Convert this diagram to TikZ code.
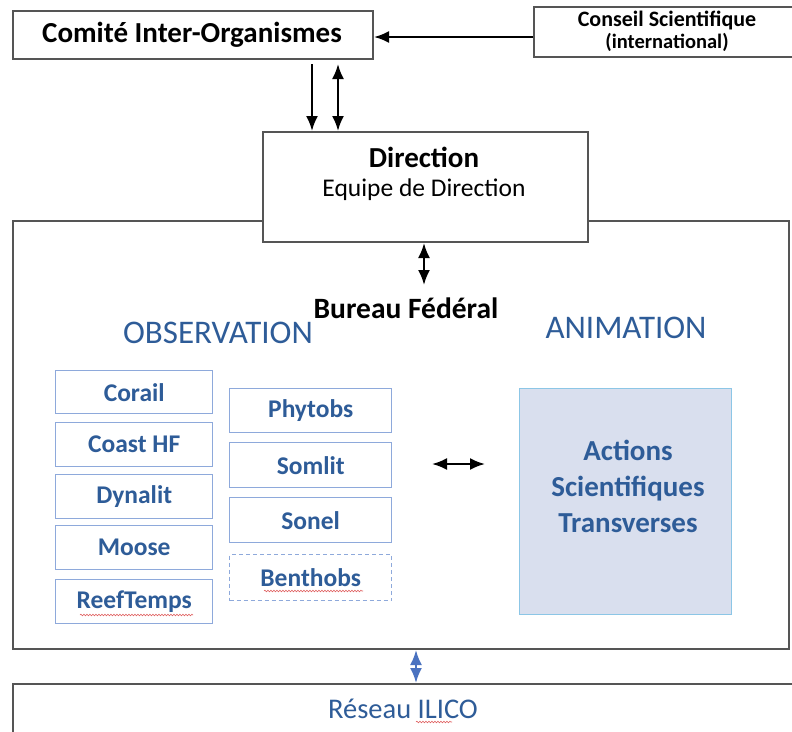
\documentclass[tikz,border=0pt]{standalone}
\usepackage{fontspec}
\setmainfont{Carlito}
\usetikzlibrary{arrows.meta,decorations.pathmorphing}
\definecolor{frame}{HTML}{555555}
\definecolor{txtblue}{HTML}{2E5C98}
\definecolor{boxblue}{HTML}{8EA9DB}
\definecolor{actfill}{HTML}{D9DFEE}
\definecolor{actline}{HTML}{8CC6E6}
\definecolor{arrblue}{HTML}{4A72C0}
\definecolor{squig}{HTML}{E06060}
\tikzset{
  graybox/.style={draw=frame, line width=2pt, fill=white, inner sep=0pt, anchor=north west, align=center},
  obsbox/.style={draw=boxblue, line width=1.4pt, fill=white, inner sep=0pt, anchor=north west,
     font=\fontsize{25.5}{29}\selectfont\bfseries, text=txtblue},
  arr/.style={line width=2.2pt, -{Latex[length=15pt,width=12pt]}},
  darr/.style={line width=2.2pt, {Latex[length=15pt,width=12pt]}-{Latex[length=15pt,width=12pt]}},
  wavy/.style={draw=squig, line width=0.6pt, decorate, decoration={snake, amplitude=0.8pt, segment length=3pt}}
}
\begin{document}
\begin{tikzpicture}[x=1pt,y=-1pt]
\useasboundingbox (0,0) rectangle (792,731);
\fill[white] (0,0) rectangle (792,731);

% big frame
\node[graybox, minimum width=776pt, minimum height=428pt] (frame) at (12,220) {};
% direction box
\node[graybox, minimum width=325pt, minimum height=110pt] (dirbox) at (262,131) {};
\node[font=\fontsize{29}{32}\selectfont\bfseries] (dirt) at (424,157) {Direction};
\node[font=\fontsize{25.5}{29}\selectfont] (dirs) at (424,190) {Equipe de Direction};

% comite
\node[graybox, minimum width=360pt, minimum height=48pt] (comite) at (12,10) {};
\node[font=\fontsize{29}{32}\selectfont\bfseries] (comt) at (192,35) {Comité Inter-Organismes};

% conseil
\node[graybox, minimum width=268pt, minimum height=50pt] (conseil) at (533,6) {};
\node[font=\fontsize{22}{24}\selectfont\bfseries, align=center] (cont) at (667,31) {Conseil Scientifique\\[-2pt]{\fontsize{20.5}{22}\selectfont(international)}};

% reseau
\node[graybox, minimum width=784pt, minimum height=70pt] (reseau) at (12,683) {};
\node[font=\fontsize{28.5}{32}\selectfont, text=txtblue] (rest) at (403,709) {Réseau ILICO};
\draw[wavy] (416,722) -- (452,722);

% labels
\node[font=\fontsize{29.5}{32}\selectfont\bfseries] (bureau) at (406,308) {Bureau Fédéral};
\node[font=\fontsize{33}{36}\selectfont, text=txtblue] (obs) at (218,333) {OBSERVATION};
\node[font=\fontsize{33}{36}\selectfont, text=txtblue] (anim) at (626,328) {ANIMATION};

% left column
\node[obsbox, minimum width=157pt, minimum height=43pt] (corail) at (55,370) {};
\node[obsbox, draw=none, fill=none, anchor=center] at (corail.center) {Corail};
\node[obsbox, minimum width=157pt, minimum height=44pt] (coast) at (55,422) {};
\node[obsbox, draw=none, fill=none, anchor=center] at (coast.center) {Coast HF};
\node[obsbox, minimum width=157pt, minimum height=44pt] (dyn) at (55,474) {};
\node[obsbox, draw=none, fill=none, anchor=center] at (dyn.center) {Dynalit};
\node[obsbox, minimum width=157pt, minimum height=44pt] (moose) at (55,525) {};
\node[obsbox, draw=none, fill=none, anchor=center] at (moose.center) {Moose};
\node[obsbox, minimum width=157pt, minimum height=44pt] (reef) at (55,579) {};
\node[obsbox, draw=none, fill=none, anchor=center] (reeft) at (reef.center) {ReefTemps};
\draw[wavy] (80,615) -- (193,615);

% right column
\node[obsbox, minimum width=162pt, minimum height=44pt] (phyt) at (229,388) {};
\node[obsbox, draw=none, fill=none, anchor=center] at (phyt.center) {Phytobs};
\node[obsbox, minimum width=162pt, minimum height=45pt] (somlit) at (229,442) {};
\node[obsbox, draw=none, fill=none, anchor=center] at (somlit.center) {Somlit};
\node[obsbox, minimum width=162pt, minimum height=45pt] (sonel) at (229,497) {};
\node[obsbox, draw=none, fill=none, anchor=center] at (sonel.center) {Sonel};
\node[obsbox, dashed, dash pattern=on 4pt off 3pt, minimum width=162pt, minimum height=46pt] (benth) at (229,554) {};
\node[obsbox, draw=none, fill=none, anchor=center] (bentht) at (benth.center) {Benthobs};
\draw[wavy] (264,591) -- (363,591);

% actions
\node[draw=actline, fill=actfill, line width=1.4pt, inner sep=0pt, anchor=north west,
      minimum width=212pt, minimum height=226pt] (actions) at (519,388) {};
\node[font=\fontsize{29}{36}\selectfont\bfseries, text=txtblue, align=center] (actt) at (628,486) {Actions\\Scientifiques\\Transverses};

% arrows
\coordinate (c1) at (533,37);
\coordinate (c2) at (372,37);
\draw[arr] (conseil.west |- c1) -- (comite.east |- c2);
\coordinate (a1) at (312,64);
\coordinate (a2) at (338,64);
\draw[arr] (a1) -- (a1 |- dirbox.north);
\draw[darr] (a2) -- (a2 |- dirbox.north);
\coordinate (b1) at (424,285);
\draw[darr] (b1 |- dirbox.south) -- (b1);
\coordinate (h1) at (432,464);
\coordinate (h2) at (485,464);
\draw[darr] (h1) -- (h2);
\coordinate (r1) at (416,648);
\draw[darr, draw=arrblue, fill=arrblue] (r1 |- frame.south) -- (r1 |- reseau.north);
\end{tikzpicture}
\end{document}
